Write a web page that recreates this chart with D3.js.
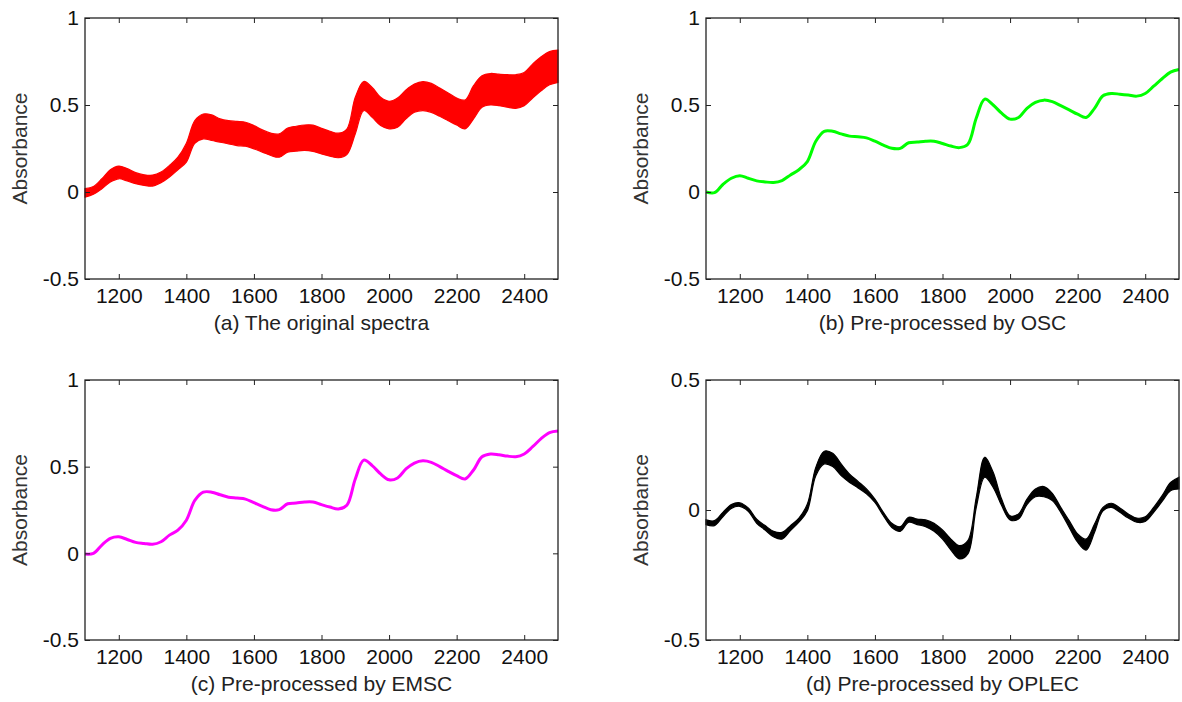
<!DOCTYPE html>
<html>
<head>
<meta charset="utf-8">
<script src="https://cdn.jsdelivr.net/npm/d3@7"></script>
<style>
  html, body { margin: 0; padding: 0; background: #fff; }
  svg text { font-family: "Liberation Sans", Arial, sans-serif; }
</style>
</head>
<body>
<svg id="chart" width="1182" height="702"></svg>
<script>
// ---- Data ----
const wavelengths = [1100,1125,1150,1175,1200,1225,1250,1275,1300,1325,1350,1375,1400,1425,1450,1475,1500,1525,1550,1575,1600,1625,1650,1675,1700,1725,1750,1775,1800,1825,1850,1875,1900,1925,1950,1975,2000,2025,2050,2075,2100,2125,2150,2175,2200,2225,2250,2275,2300,2325,2350,2375,2400,2425,2450,2475,2500];

// (a) original spectra: upper / lower envelope of the bundle of curves
const origUpper = [0.019,0.032,0.076,0.128,0.149,0.134,0.111,0.099,0.097,0.115,0.153,0.200,0.280,0.410,0.448,0.443,0.420,0.410,0.406,0.401,0.382,0.357,0.338,0.334,0.368,0.378,0.385,0.384,0.366,0.349,0.338,0.362,0.544,0.635,0.601,0.544,0.521,0.540,0.586,0.620,0.634,0.624,0.597,0.569,0.540,0.529,0.611,0.668,0.681,0.677,0.674,0.674,0.687,0.735,0.777,0.807,0.815];
const origLower = [-0.029,-0.013,0.019,0.057,0.076,0.063,0.048,0.038,0.034,0.053,0.086,0.128,0.172,0.280,0.305,0.296,0.286,0.277,0.267,0.263,0.248,0.229,0.210,0.200,0.229,0.235,0.239,0.233,0.219,0.206,0.197,0.215,0.334,0.468,0.429,0.382,0.363,0.372,0.420,0.458,0.468,0.458,0.435,0.410,0.385,0.363,0.420,0.487,0.500,0.496,0.487,0.481,0.496,0.540,0.582,0.616,0.630];

// (b) OSC pre-processed (curves nearly coincide)
const oscSpectrum = [0.000,-0.004,0.043,0.079,0.094,0.079,0.064,0.058,0.055,0.066,0.098,0.128,0.175,0.292,0.349,0.349,0.334,0.321,0.317,0.311,0.292,0.270,0.251,0.251,0.283,0.287,0.292,0.292,0.279,0.264,0.255,0.274,0.425,0.534,0.500,0.453,0.419,0.428,0.481,0.515,0.528,0.519,0.496,0.472,0.447,0.428,0.481,0.553,0.566,0.562,0.557,0.551,0.566,0.608,0.651,0.689,0.704];

// (c) EMSC pre-processed
const emscSpectrum = [-0.004,0.000,0.048,0.086,0.095,0.080,0.063,0.057,0.052,0.067,0.105,0.134,0.191,0.305,0.353,0.353,0.338,0.324,0.319,0.313,0.292,0.271,0.252,0.252,0.286,0.290,0.296,0.296,0.281,0.267,0.256,0.277,0.429,0.538,0.506,0.458,0.424,0.435,0.487,0.521,0.534,0.525,0.500,0.473,0.448,0.429,0.481,0.557,0.573,0.569,0.561,0.557,0.573,0.615,0.662,0.697,0.706];

// (d) OPLEC pre-processed: upper / lower envelope
const oplecUpper = [-0.038,-0.041,-0.009,0.021,0.028,0.008,-0.035,-0.060,-0.082,-0.086,-0.060,-0.031,0.023,0.164,0.226,0.218,0.177,0.138,0.110,0.081,0.042,-0.009,-0.051,-0.064,-0.028,-0.035,-0.038,-0.051,-0.077,-0.112,-0.137,-0.118,0.049,0.203,0.145,0.042,-0.022,-0.015,0.042,0.081,0.090,0.064,0.010,-0.041,-0.092,-0.112,-0.054,0.010,0.026,0.008,-0.015,-0.031,-0.026,0.010,0.055,0.106,0.126];
const oplecLower = [-0.056,-0.060,-0.026,0.006,0.014,-0.005,-0.051,-0.077,-0.103,-0.112,-0.079,-0.047,-0.003,0.132,0.177,0.167,0.132,0.106,0.085,0.062,0.029,-0.022,-0.067,-0.082,-0.047,-0.056,-0.064,-0.082,-0.112,-0.154,-0.188,-0.169,0.010,0.126,0.087,0.017,-0.038,-0.035,0.021,0.051,0.051,0.036,-0.009,-0.067,-0.124,-0.154,-0.086,-0.003,0.010,-0.009,-0.031,-0.047,-0.044,-0.009,0.033,0.074,0.081];

// Axis tick labels
const xTicks = [1200,1400,1600,1800,2000,2200,2400];
const yTicksFull = [-0.5,0,0.5,1];
const yTicksD = [-0.5,0,0.5];
const captions = ["(a) The original spectra","(b) Pre-processed by OSC","(c) Pre-processed by EMSC","(d) Pre-processed by OPLEC"];
const yLabel = "Absorbance";

// ---- Layout ----
const panels = [
  {x0:85,  x1:558,  y0:18,  y1:279, yDom:[-0.5,1],   yTicks:yTicksFull, color:"#ff0000", upper:origUpper, lower:origLower, caption:captions[0]},
  {x0:706, x1:1179, y0:18,  y1:279, yDom:[-0.5,1],   yTicks:yTicksFull, color:"#00ff00", line:oscSpectrum, caption:captions[1]},
  {x0:85,  x1:558,  y0:380, y1:640, yDom:[-0.5,1],   yTicks:yTicksFull, color:"#ff00ff", line:emscSpectrum, caption:captions[2]},
  {x0:706, x1:1179, y0:380, y1:640, yDom:[-0.5,0.5], yTicks:yTicksD,    color:"#000000", upper:oplecUpper, lower:oplecLower, caption:captions[3]}
];

const svg = d3.select("#chart");
const FS = 21;
const fmt = d => String(d);

panels.forEach(p => {
  const x = d3.scaleLinear().domain([1100,2500]).range([p.x0, p.x1]);
  const y = d3.scaleLinear().domain(p.yDom).range([p.y1, p.y0]);
  const g = svg.append("g");

  // data
  const curve = d3.curveCatmullRom.alpha(0.5);
  if (p.upper) {
    const rows = wavelengths.map((w,i) => ({w, hi:p.upper[i], lo:p.lower[i]}));
    const area = d3.area().x(d => x(d.w)).y0(d => y(d.lo)).y1(d => y(d.hi)).curve(curve);
    g.append("path").datum(rows).attr("d", area)
      .attr("fill", p.color).attr("stroke", p.color).attr("stroke-width", 1.2);
  } else {
    const rows = wavelengths.map((w,i) => ({w, v:p.line[i]}));
    const line = d3.line().x(d => x(d.w)).y(d => y(d.v)).curve(curve);
    g.append("path").datum(rows).attr("d", line)
      .attr("fill", "none").attr("stroke", p.color).attr("stroke-width", 3);
  }

  // axes with inward ticks on all four sides
  const styleAxis = sel => {
    sel.select(".domain").remove();
    sel.selectAll(".tick line").attr("stroke", "#222").attr("stroke-width", 1);
    sel.selectAll(".tick text").attr("fill", "#111").style("font-size", FS + "px")
      .style("font-family", '"Liberation Sans", Arial, sans-serif');
  };
  g.append("g").attr("transform", `translate(0,${p.y1})`)
    .call(d3.axisBottom(x).tickValues(xTicks).tickFormat(fmt).tickSizeInner(-5).tickSizeOuter(0).tickPadding(9))
    .call(styleAxis);
  g.append("g").attr("transform", `translate(0,${p.y0})`)
    .call(d3.axisTop(x).tickValues(xTicks).tickFormat("").tickSizeInner(-5).tickSizeOuter(0))
    .call(styleAxis);
  g.append("g").attr("transform", `translate(${p.x0},0)`)
    .call(d3.axisLeft(y).tickValues(p.yTicks).tickFormat(fmt).tickSizeInner(-5).tickSizeOuter(0).tickPadding(6))
    .call(styleAxis);
  g.append("g").attr("transform", `translate(${p.x1},0)`)
    .call(d3.axisRight(y).tickValues(p.yTicks).tickFormat("").tickSizeInner(-5).tickSizeOuter(0))
    .call(styleAxis);

  // frame
  g.append("rect").attr("x", p.x0).attr("y", p.y0)
    .attr("width", p.x1 - p.x0).attr("height", p.y1 - p.y0)
    .attr("fill", "none").attr("stroke", "#222").attr("stroke-width", 1.3);

  // y label
  const cy = (p.y0 + p.y1) / 2;
  g.append("text").attr("transform", `translate(${p.x0 - 58},${cy}) rotate(-90)`)
    .attr("text-anchor", "middle").attr("fill", "#333").style("font-size", FS + "px")
    .text(yLabel);

  // caption
  g.append("text").attr("x", (p.x0 + p.x1) / 2).attr("y", p.y1 + 51)
    .attr("text-anchor", "middle").attr("fill", "#222").style("font-size", FS + "px")
    .text(p.caption);
});
</script>
</body>
</html>
